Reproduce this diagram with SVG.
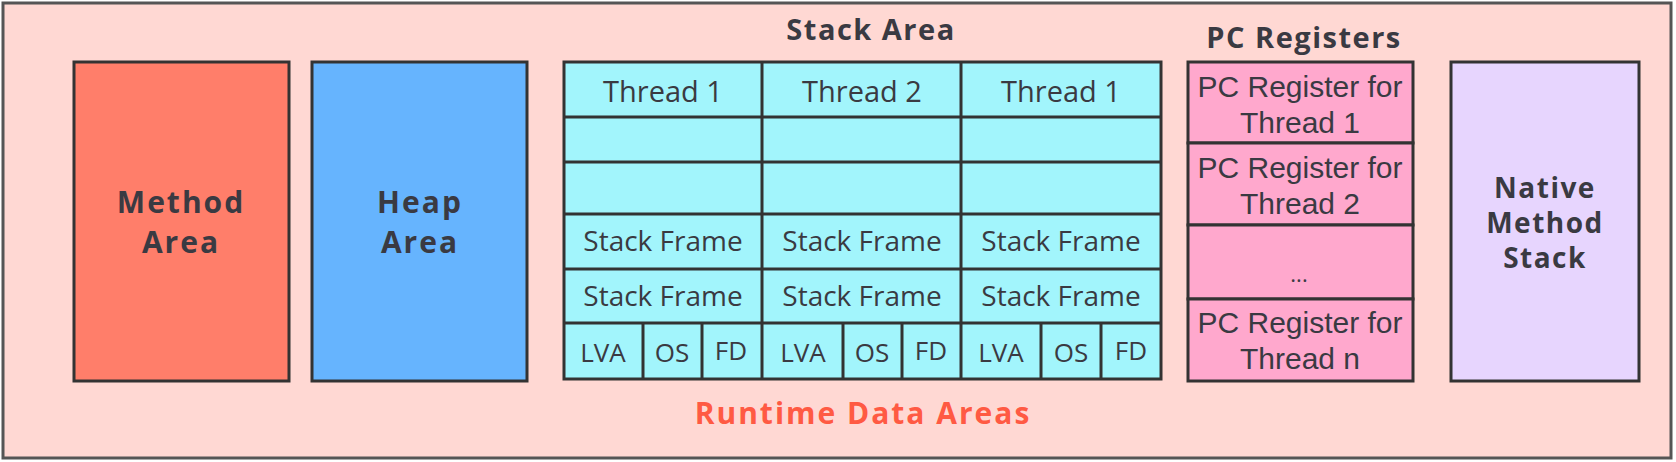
<svg xmlns="http://www.w3.org/2000/svg" width="1676" height="462" viewBox="0 0 1676 462">
<style>
.box{stroke:#333;stroke-width:3}
.t{font-family:"Open Sans","DejaVu Sans",sans-serif;fill:#3a3a42;text-anchor:middle}
.r{font-size:29px}
.b{font-weight:bold;letter-spacing:1.5px}
.p{font-family:"Liberation Sans",Arial,sans-serif;font-size:30px}
.cell{fill:#a2f5fc;stroke:#333;stroke-width:3}
.pc{fill:#ffa8cd;stroke:#333;stroke-width:3}
</style>
<g id="runtime-data-areas">
<rect x="3" y="3" width="1668" height="455" fill="#ffd8d3" stroke="#555" stroke-width="3"/>
<text class="t b" x="863" y="424" font-size="30" style="fill:#ff5a43;letter-spacing:2px">Runtime Data Areas</text>
</g>
<g id="method-area">
<rect class="box" x="74" y="62" width="215" height="319" fill="#ff7e6a"/>
<text class="t b" x="181" y="213" font-size="30" style="letter-spacing:2px">Method</text>
<text class="t b" x="181" y="253" font-size="30" style="letter-spacing:2px">Area</text>
</g>
<g id="heap-area">
<rect class="box" x="312" y="62" width="215" height="319" fill="#66b4fe"/>
<text class="t b" x="420" y="213" font-size="30" style="letter-spacing:2px">Heap</text>
<text class="t b" x="420" y="253" font-size="30" style="letter-spacing:2px">Area</text>
</g>
<g id="stack-area">
<text class="t b" x="871" y="40" font-size="29">Stack Area</text>
<rect class="cell" x="564" y="62" width="597" height="317"/>
<g stroke="#333" stroke-width="3">
<line x1="564" y1="117" x2="1161" y2="117"/>
<line x1="564" y1="162" x2="1161" y2="162"/>
<line x1="564" y1="214" x2="1161" y2="214"/>
<line x1="564" y1="269" x2="1161" y2="269"/>
<line x1="564" y1="323" x2="1161" y2="323"/>
<line x1="762" y1="62" x2="762" y2="379"/>
<line x1="961" y1="62" x2="961" y2="379"/>
<line x1="643" y1="323" x2="643" y2="379"/>
<line x1="702" y1="323" x2="702" y2="379"/>
<line x1="843" y1="323" x2="843" y2="379"/>
<line x1="902" y1="323" x2="902" y2="379"/>
<line x1="1041" y1="323" x2="1041" y2="379"/>
<line x1="1101" y1="323" x2="1101" y2="379"/>
</g>
<text class="t r" x="663" y="102">Thread 1</text>
<text class="t r" x="862" y="102">Thread 2</text>
<text class="t r" x="1061" y="102">Thread 1</text>
<text class="t" font-size="28" x="663" y="251">Stack Frame</text>
<text class="t" font-size="28" x="862" y="251">Stack Frame</text>
<text class="t" font-size="28" x="1061" y="251">Stack Frame</text>
<text class="t" font-size="28" x="663" y="306">Stack Frame</text>
<text class="t" font-size="28" x="862" y="306">Stack Frame</text>
<text class="t" font-size="28" x="1061" y="306">Stack Frame</text>
<g font-size="26">
<text class="t" x="603" y="362">LVA</text>
<text class="t" x="672" y="362">OS</text>
<text class="t" x="731" y="360">FD</text>
<text class="t" x="803" y="362">LVA</text>
<text class="t" x="872" y="362">OS</text>
<text class="t" x="931" y="360">FD</text>
<text class="t" x="1001" y="362">LVA</text>
<text class="t" x="1071" y="362">OS</text>
<text class="t" x="1131" y="360">FD</text>
</g>
</g>
<g id="pc-registers">
<text class="t b" x="1304" y="48" font-size="29">PC Registers</text>
<rect class="pc" x="1188" y="62" width="225" height="81"/>
<rect class="pc" x="1188" y="143" width="225" height="82"/>
<rect class="pc" x="1188" y="225" width="225" height="74"/>
<rect class="pc" x="1188" y="299" width="225" height="82"/>
<text class="t p" x="1300" y="97">PC Register for</text>
<text class="t p" x="1300" y="133">Thread 1</text>
<text class="t p" x="1300" y="178">PC Register for</text>
<text class="t p" x="1300" y="214">Thread 2</text>
<text class="t" font-size="22" x="1299" y="282">...</text>
<text class="t p" x="1300" y="333">PC Register for</text>
<text class="t p" x="1300" y="369">Thread n</text>
</g>
<g id="native-method-stack">
<rect class="box" x="1451" y="62" width="188" height="319" fill="#e7d5fe"/>
<text class="t b" x="1545" y="198" font-size="28">Native</text>
<text class="t b" x="1545" y="233" font-size="28">Method</text>
<text class="t b" x="1545" y="268" font-size="28">Stack</text>
</g>
</svg>
